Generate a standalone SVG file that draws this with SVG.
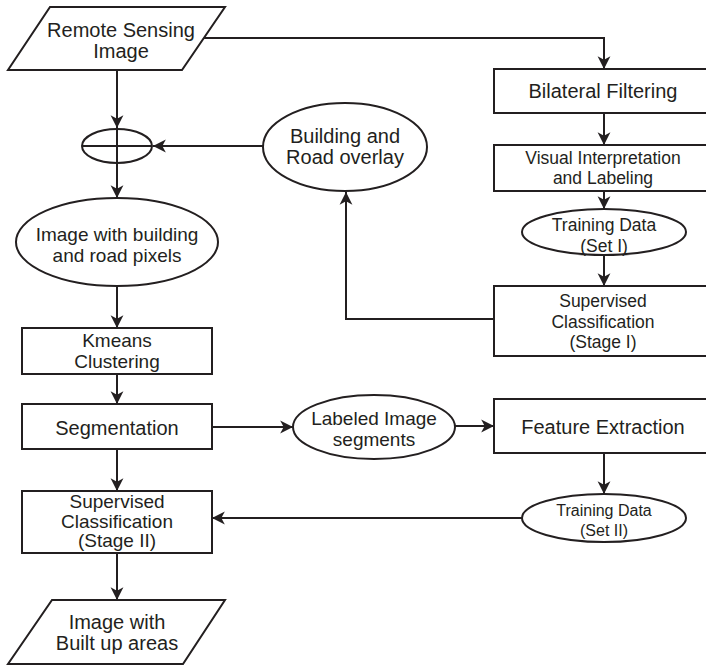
<svg xmlns="http://www.w3.org/2000/svg" width="706" height="666" viewBox="0 0 706 666">
  <style>
    .shape { fill: #ffffff; stroke: #231f20; stroke-width: 2; }
    .wire { fill: none; stroke: #231f20; stroke-width: 2; }
    .lbl { font-family: "Liberation Sans", Arial, sans-serif; fill: #231f20; text-anchor: middle; font-size: 20px; }
    .md { font-size: 19px; }
    .sm { font-size: 17.5px; }
    .xs { font-size: 16px; }
  </style>
  <defs>
    <marker id="arrow" markerUnits="userSpaceOnUse" markerWidth="14" markerHeight="14" viewBox="0 0 12 12" refX="11" refY="6" orient="auto">
      <path d="M0,0.5 L11,6 L0,11.5 L3,6 Z" fill="#231f20"/>
    </marker>
  </defs>
  <rect width="706" height="666" fill="#ffffff"/>

  <!-- connectors -->
  <g id="connectors">
    <path class="wire" d="M117,70 V128" marker-end="url(#arrow)"/>
    <path class="wire" d="M204,38 H604 V69" marker-end="url(#arrow)"/>
    <path class="wire" d="M604,113 V145" marker-end="url(#arrow)"/>
    <path class="wire" d="M604,191 V209" marker-end="url(#arrow)"/>
    <path class="wire" d="M604,256 V286" marker-end="url(#arrow)"/>
    <path class="wire" d="M494,319 H346 V192" marker-end="url(#arrow)"/>
    <path class="wire" d="M263,146 H153" marker-end="url(#arrow)"/>
    <path class="wire" d="M117,163 V198" marker-end="url(#arrow)"/>
    <path class="wire" d="M117,287 V328" marker-end="url(#arrow)"/>
    <path class="wire" d="M117,374 V404" marker-end="url(#arrow)"/>
    <path class="wire" d="M212,427 H293" marker-end="url(#arrow)"/>
    <path class="wire" d="M455,426 H494" marker-end="url(#arrow)"/>
    <path class="wire" d="M604,453 V494" marker-end="url(#arrow)"/>
    <path class="wire" d="M522,518 H212" marker-end="url(#arrow)"/>
    <path class="wire" d="M117,449 V491" marker-end="url(#arrow)"/>
    <path class="wire" d="M117,553 V600" marker-end="url(#arrow)"/>
  </g>

  <!-- input image -->
  <g id="remote-sensing-image">
    <polygon class="shape" points="50,7 225,7 182,70 8,70"/>
    <text class="lbl" x="121" y="37">Remote Sensing</text>
    <text class="lbl" x="121" y="58">Image</text>
  </g>

  <!-- overlay operator -->
  <g id="overlay-op">
    <ellipse class="shape" cx="117" cy="146" rx="35" ry="17"/>
    <path class="wire" d="M82,146 H152 M117,129 V163"/>
  </g>

  <g id="building-road-overlay">
    <ellipse class="shape" cx="345" cy="147" rx="82" ry="44"/>
    <text class="lbl" x="345" y="143">Building and</text>
    <text class="lbl" x="345" y="164">Road overlay</text>
  </g>

  <g id="bilateral-filtering">
    <rect class="shape" x="494" y="69" width="226" height="44"/>
    <text class="lbl" x="603" y="98">Bilateral Filtering</text>
  </g>

  <g id="visual-interpretation">
    <rect class="shape" x="494" y="145" width="226" height="46"/>
    <text class="lbl sm" x="603" y="164">Visual Interpretation</text>
    <text class="lbl sm" x="603" y="184">and Labeling</text>
  </g>

  <g id="training-data-1">
    <ellipse class="shape" cx="604" cy="232" rx="82" ry="23"/>
    <text class="lbl sm" x="604" y="231">Training Data</text>
    <text class="lbl sm" x="604" y="252">(Set I)</text>
  </g>

  <g id="supervised-stage-1">
    <rect class="shape" x="494" y="286" width="226" height="70"/>
    <text class="lbl sm" x="603" y="307">Supervised</text>
    <text class="lbl sm" x="603" y="328">Classification</text>
    <text class="lbl sm" x="603" y="348">(Stage I)</text>
  </g>

  <g id="image-with-pixels">
    <ellipse class="shape" cx="117" cy="242" rx="101" ry="44"/>
    <text class="lbl md" x="117" y="241">Image with building</text>
    <text class="lbl md" x="117" y="262">and road pixels</text>
  </g>

  <g id="kmeans">
    <rect class="shape" x="22" y="328" width="190" height="46"/>
    <text class="lbl md" x="117" y="347">Kmeans</text>
    <text class="lbl md" x="117" y="368">Clustering</text>
  </g>

  <g id="segmentation">
    <rect class="shape" x="22" y="404" width="190" height="45"/>
    <text class="lbl" x="117" y="435">Segmentation</text>
  </g>

  <g id="labeled-segments">
    <ellipse class="shape" cx="374" cy="427" rx="81" ry="32"/>
    <text class="lbl md" x="374" y="425">Labeled Image</text>
    <text class="lbl md" x="374" y="446">segments</text>
  </g>

  <g id="feature-extraction">
    <rect class="shape" x="494" y="399" width="226" height="54"/>
    <text class="lbl" x="603" y="434">Feature Extraction</text>
  </g>

  <g id="training-data-2">
    <ellipse class="shape" cx="604" cy="518" rx="82" ry="24"/>
    <text class="lbl xs" x="604" y="516">Training Data</text>
    <text class="lbl xs" x="604" y="536">(Set II)</text>
  </g>

  <g id="supervised-stage-2">
    <rect class="shape" x="22" y="491" width="190" height="62"/>
    <text class="lbl md" x="117" y="508">Supervised</text>
    <text class="lbl md" x="117" y="528">Classification</text>
    <text class="lbl md" x="117" y="547">(Stage II)</text>
  </g>

  <g id="built-up-output">
    <polygon class="shape" points="52,600 225,600 183,664 8,664"/>
    <text class="lbl" x="117" y="629">Image with</text>
    <text class="lbl" x="117" y="650">Built up areas</text>
  </g>
</svg>
